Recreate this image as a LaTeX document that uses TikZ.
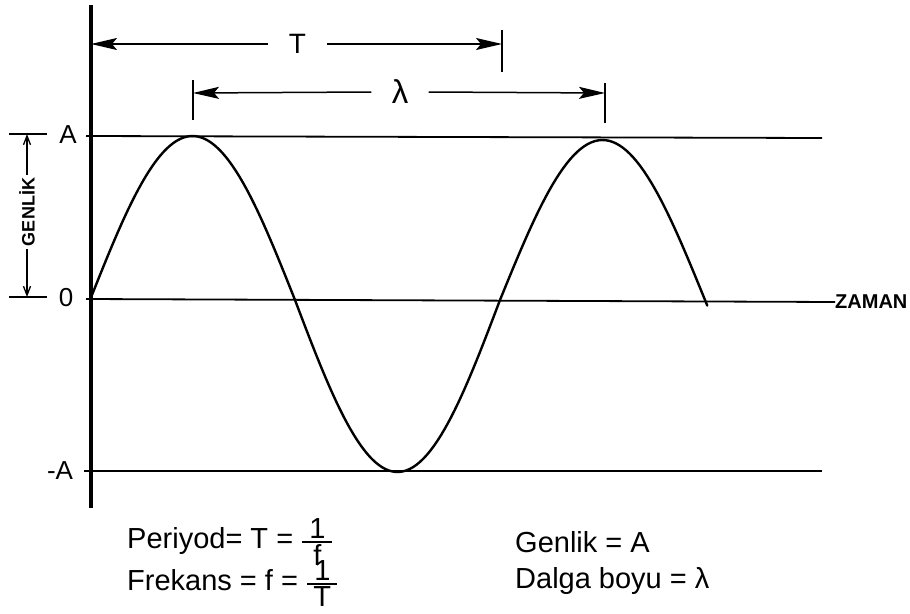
\documentclass[tikz,border=0pt]{standalone}
\usepackage{amsmath}
\usepackage{fontspec}
\setmainfont{Liberation Sans}
\usetikzlibrary{arrows.meta}
\newcommand\myfr[2]{$\genfrac{}{}{1.8pt}{1}{\hbox to 30pt{\hfil#1\hfil}}{\hbox to 30pt{\hfil#2\hfil}}$}
\begin{document}
\begin{tikzpicture}[x=1pt,y=-1pt,
  lbl/.style={inner sep=0pt, font=\fontsize{26}{30}\selectfont},
  dimlbl/.style={inner sep=0pt, font=\fontsize{28}{32}\selectfont},
  bot/.style={anchor=base west, inner sep=0pt, font=\fontsize{29}{32}\selectfont},
  level/.style={line width=1.8pt},
  tick/.style={line width=2.2pt},
  dimline/.style={line width=1.5pt, -{Stealth[length=26pt,width=12pt,inset=5pt]}},
  wave/.style={line width=2.4pt},
  gar/.style={line width=1.3pt, -{Straight Barb[length=9pt,width=7pt]}}
]
\useasboundingbox (0,0) rectangle (910,613);

% vertical axis
\draw[line width=3.2pt] (91,5) -- (91,508);

% level lines and labels
\node[anchor=west, inner sep=0pt, font=\bfseries\fontsize{20}{23}\selectfont] (zaman) at (835,302) {ZAMAN};
\draw[level] (86,136) -- (822,138);
\draw[level] (86,299) -- (zaman.west);
\draw[level] (84,471) -- (822,471);
\node[lbl] (lA) at (68,135) {A};
\node[lbl] (l0) at (66,298) {0};
\node[lbl] (lmA) at (60,471) {-A};

% wave
\draw[wave, line join=round, line cap=round] plot[domain=0:180, samples=60] ({90+\x/180*205}, {300-164*sin(\x)})
  -- plot[domain=180:360, samples=60] ({90+\x/180*205}, {300-172*sin(\x)})
  -- plot[domain=360:542, samples=60] ({90+\x/180*205}, {300-160*sin(\x)});

% period T
\node[dimlbl, minimum width=59pt] (Tl) at (297.5,44) {T};
\coordinate (T1) at (91,44);
\coordinate (T2) at (502,44);
\draw[dimline] (Tl.west) -- (T1);
\draw[dimline] (Tl.east) -- (T2);
\draw[tick] (T2) ++(0,-14) -- ++(0,42);

% wavelength lambda
\node[dimlbl, minimum width=57pt, font=\fontsize{33}{36}\selectfont] (Ll) at (400,92) {λ};
\coordinate (L1) at (193,93);
\coordinate (L2) at (605,93);
\draw[dimline] (Ll.west) -- (L1);
\draw[dimline] (Ll.east) -- (L2);
\draw[tick] (L1) ++(0,-13) -- ++(0,40);
\draw[tick] (L2) ++(0,-10) -- ++(0,40);

% amplitude GENLIK
\node[rotate=90, inner sep=3pt, font=\bfseries\fontsize{18}{20}\selectfont] (gen) at (27,212) {GENLİK};
\coordinate (g1) at (27,134);
\coordinate (g2) at (27,297);
\draw[gar] (gen.east) -- (g1);
\draw[gar] (gen.west) -- (g2);
\draw[tick] (g1) ++(-18,0) -- ++(38,0);
\draw[tick] (g2) ++(-18,0) -- ++(38,0);

% formulas
\node[bot] (per) at (127,548) {Periyod= T = \myfr{1}{f}};
\node[bot] (fre) at (127,590) {Frekans = f = \myfr{1}{T}};
\node[bot] (gnl) at (515,552) {Genlik = A};
\node[bot] (dal) at (515,588) {Dalga boyu = λ};
\end{tikzpicture}
\end{document}
